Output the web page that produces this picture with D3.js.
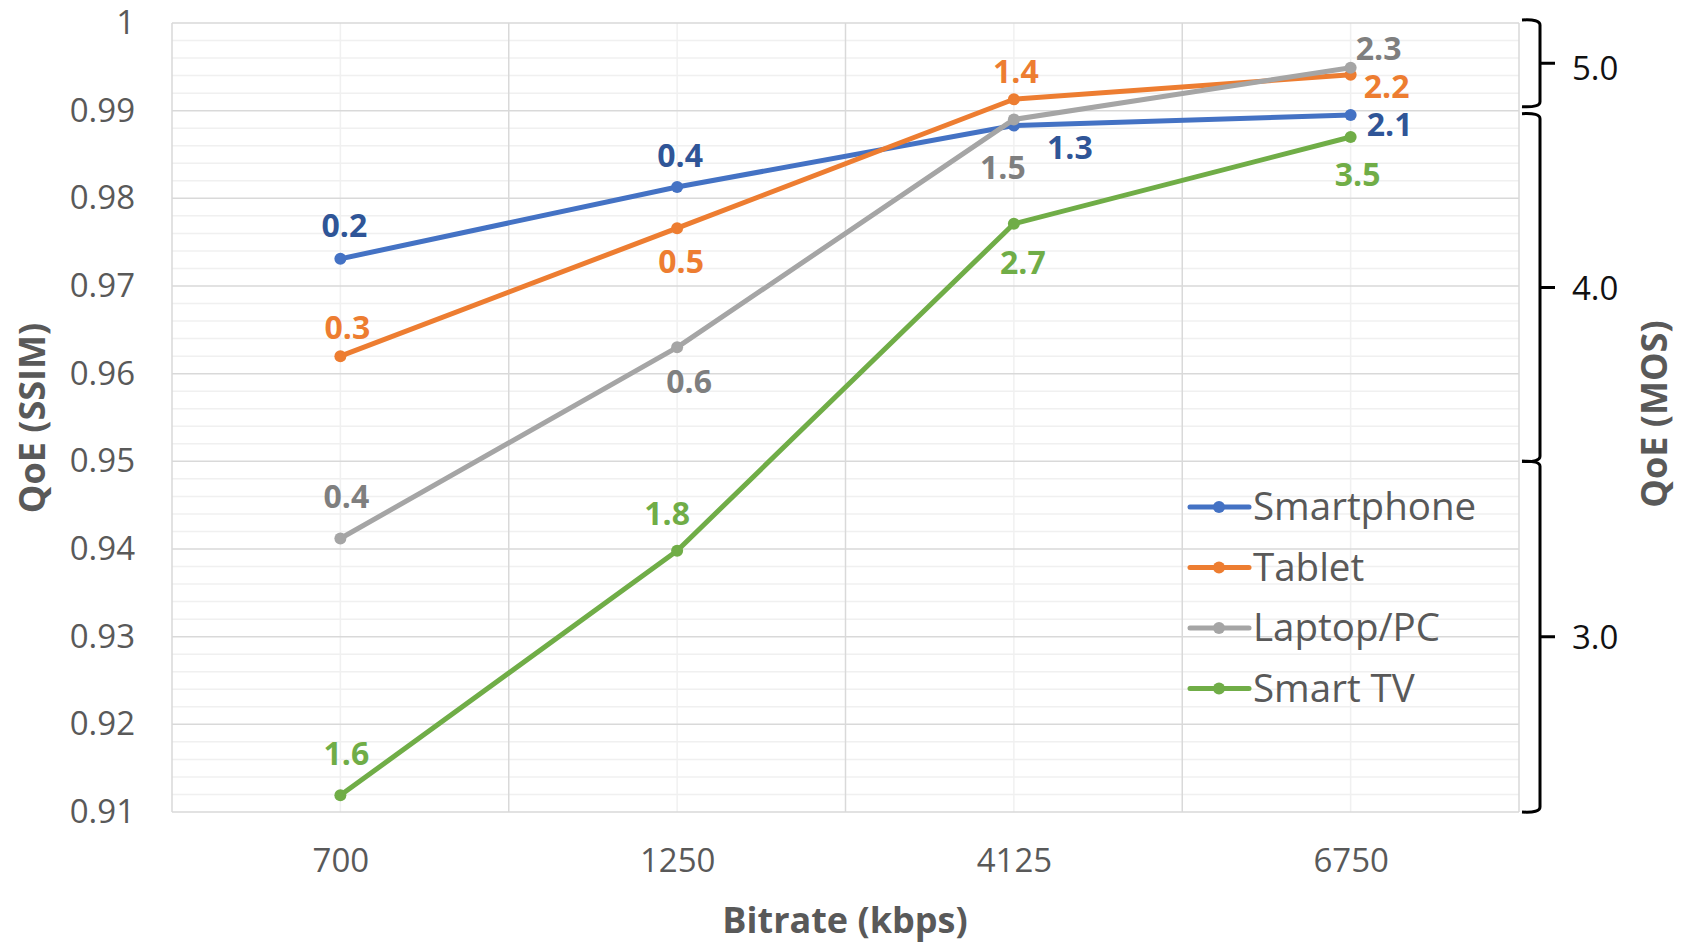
<!DOCTYPE html>
<html>
<head>
<meta charset="utf-8">
<script src="https://cdn.jsdelivr.net/npm/d3@7"></script>
<style>
  html, body { margin: 0; padding: 0; background: #fff; }
  svg { display: block; font-family: "Open Sans", "DejaVu Sans", sans-serif; }
</style>
</head>
<body>
<svg id="chart" width="1686" height="944"></svg>
<script>
// Categories and series
const bitrates = ["700", "1250", "4125", "6750"];
const seriesNames = ["Smartphone", "Tablet", "Laptop/PC", "Smart TV"];
const smartphoneSSIM = [0.9731, 0.9813, 0.9883, 0.9895];
const tabletSSIM     = [0.9620, 0.9766, 0.9913, 0.9941];
const laptopSSIM     = [0.9412, 0.9630, 0.9890, 0.9949];
const smartTvSSIM    = [0.9119, 0.9398, 0.9771, 0.9870];

// Point annotations per series
const smartphoneNotes = ["0.2", "0.4", "1.3", "2.1"];
const tabletNotes     = ["0.3", "0.5", "1.4", "2.2"];
const laptopNotes     = ["0.4", "0.6", "1.5", "2.3"];
const smartTvNotes    = ["1.6", "1.8", "2.7", "3.5"];

// Axis ticks
const ssimTicks = [0.91, 0.92, 0.93, 0.94, 0.95, 0.96, 0.97, 0.98, 0.99, 1];
const mosLabels = ["5.0", "4.0", "3.0"];
const mosLow    = [0.99, 0.95, 0.91];
const mosHigh   = [1.0, 0.99, 0.95];

// Styling
const lineColors  = ["#4472C4", "#ED7D31", "#A5A5A5", "#70AD47"];
const labelColors = ["#2F5597", "#ED7D31", "#7F7F7F", "#70AD47"];
// annotation offsets [dx, dy] relative to each point
const noteOffsets = [
  [[4, -33], [3, -31], [56, 22], [39, 9]],
  [[7, -29], [4, 33], [2, -28], [36, 12]],
  [[6, -42], [12, 34], [-11, 48], [28, -19]],
  [[6, -42], [-10, -37], [9, 39], [7, 38]]
];

const seriesValues = [smartphoneSSIM, tabletSSIM, laptopSSIM, smartTvSSIM];
const seriesNotes = [smartphoneNotes, tabletNotes, laptopNotes, smartTvNotes];

const svg = d3.select("#chart");
const plot = { left: 172, right: 1519, top: 23, bottom: 812 };

const x = d3.scalePoint().domain(bitrates).range([plot.left, plot.right]).padding(0.5);
const xBand = d3.scaleBand().domain(bitrates).range([plot.left, plot.right]);
const y = d3.scaleLinear().domain([0.91, 1]).range([plot.bottom, plot.top]);

// Minor horizontal gridlines (every 0.002)
const minorY = d3.range(0, 46).map(i => 0.91 + i * 0.002).filter(v => Math.round(v * 1000) % 10 !== 0);
svg.append("g").selectAll("line").data(minorY).join("line")
  .attr("x1", plot.left).attr("x2", plot.right)
  .attr("y1", d => y(d)).attr("y2", d => y(d))
  .attr("stroke", "#F0F0F0").attr("stroke-width", 1.5);

// Minor vertical gridlines at category centres
svg.append("g").selectAll("line").data(bitrates).join("line")
  .attr("x1", d => x(d)).attr("x2", d => x(d))
  .attr("y1", plot.top).attr("y2", plot.bottom)
  .attr("stroke", "#F0F0F0").attr("stroke-width", 1.5);

// Major horizontal gridlines
svg.append("g").selectAll("line").data(ssimTicks).join("line")
  .attr("x1", plot.left).attr("x2", plot.right)
  .attr("y1", d => y(d)).attr("y2", d => y(d))
  .attr("stroke", "#D9D9D9").attr("stroke-width", 1.5);

// Major vertical gridlines at band edges
const bandEdges = bitrates.map(d => xBand(d)).concat([plot.right]);
svg.append("g").selectAll("line").data(bandEdges).join("line")
  .attr("x1", d => d).attr("x2", d => d)
  .attr("y1", plot.top).attr("y2", plot.bottom)
  .attr("stroke", "#D9D9D9").attr("stroke-width", 1.5);

// Left axis labels
const leftAxis = svg.append("g").attr("transform", `translate(${plot.left},0)`)
  .call(d3.axisLeft(y).tickValues(ssimTicks).tickSize(0).tickPadding(37)
    .tickFormat(d => d === 1 ? "1" : d.toFixed(2)));
leftAxis.select(".domain").remove();
leftAxis.selectAll("text").attr("font-size", 33).attr("fill", "#595959")
  .attr("font-family", "'Open Sans', sans-serif");

// Bottom axis labels
const bottomAxis = svg.append("g").attr("transform", `translate(0,${plot.bottom})`)
  .call(d3.axisBottom(x).tickSize(0).tickPadding(37));
bottomAxis.select(".domain").remove();
bottomAxis.selectAll("text").attr("font-size", 33).attr("fill", "#595959")
  .attr("font-family", "'Open Sans', sans-serif");

// Axis titles
svg.append("text").attr("x", 845).attr("y", 933).attr("text-anchor", "middle")
  .attr("font-size", 36).attr("font-weight", "bold").attr("fill", "#595959")
  .text("Bitrate (kbps)");
svg.append("text").attr("transform", "translate(45,418) rotate(-90)")
  .attr("text-anchor", "middle").attr("font-size", 36).attr("font-weight", "bold")
  .attr("fill", "#595959").text("QoE (SSIM)");
svg.append("text").attr("transform", "translate(1667,414) rotate(-90)")
  .attr("text-anchor", "middle").attr("font-size", 36).attr("font-weight", "bold")
  .attr("fill", "#595959").text("QoE (MOS)");

// Right-hand MOS brackets
const bx = 1540, hook = 18, tickLen = 15;
const brackets = svg.append("g");
mosLabels.forEach((lab, i) => {
  const top = y(mosHigh[i]) - (i === 0 ? 3 : 0) + (i === 1 ? 3 : 0);
  const bot = y(mosLow[i]) - (i === 0 ? 4 : 0);
  const mid = (top + bot) / 2;
  const path = d3.path();
  path.moveTo(bx - hook, top);
  path.quadraticCurveTo(bx, top - 1, bx, top + 5);
  path.lineTo(bx, bot - 5);
  path.quadraticCurveTo(bx, bot + 1, bx - hook, bot);
  path.moveTo(bx, mid);
  path.lineTo(bx + tickLen, mid);
  brackets.append("path").attr("d", path.toString())
    .attr("fill", "none").attr("stroke", "#000").attr("stroke-width", 3);
  brackets.append("text").attr("x", bx + 32).attr("y", mid + (i === 0 ? 5 : 1))
    .attr("dy", "0.35em").attr("font-size", 33).attr("fill", "#111").text(lab);
});

// Series lines, markers and annotations
const line = d3.line().x((d, i) => x(bitrates[i])).y(d => y(d));
seriesValues.forEach((vals, s) => {
  const g = svg.append("g");
  g.append("path").datum(vals).attr("d", line)
    .attr("fill", "none").attr("stroke", lineColors[s]).attr("stroke-width", 5)
    .attr("stroke-linejoin", "round").attr("stroke-linecap", "round");
  g.selectAll("circle").data(vals).join("circle")
    .attr("cx", (d, i) => x(bitrates[i])).attr("cy", d => y(d)).attr("r", 6)
    .attr("fill", lineColors[s]);
});
seriesValues.forEach((vals, s) => {
  svg.append("g").selectAll("text").data(vals).join("text")
    .attr("x", (d, i) => x(bitrates[i]) + noteOffsets[s][i][0])
    .attr("y", (d, i) => y(d) + noteOffsets[s][i][1])
    .attr("dy", "0.36em").attr("text-anchor", "middle")
    .attr("font-size", 32).attr("font-weight", "bold").attr("fill", labelColors[s])
    .text((d, i) => seriesNotes[s][i]);
});

// Legend
const legend = svg.append("g").attr("transform", "translate(1190,507)");
seriesNames.forEach((name, i) => {
  const row = legend.append("g").attr("transform", `translate(0,${i * 60.5})`);
  row.append("line").attr("x1", 0).attr("x2", 59).attr("y1", 0).attr("y2", 0)
    .attr("stroke", lineColors[i]).attr("stroke-width", 5).attr("stroke-linecap", "round");
  row.append("circle").attr("cx", 29).attr("cy", 0).attr("r", 6).attr("fill", lineColors[i]);
  row.append("text").attr("x", 63).attr("y", 0).attr("dy", "0.35em")
    .attr("font-size", 38.5).attr("fill", "#595959").text(name);
});
</script>
</body>
</html>
